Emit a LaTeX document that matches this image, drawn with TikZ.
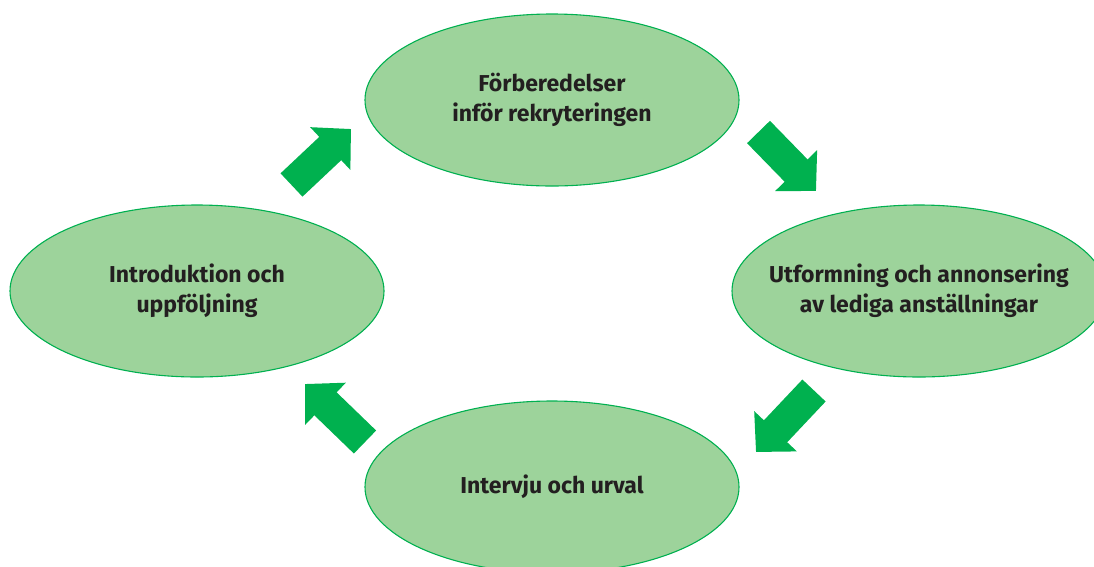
\documentclass[tikz,border=0pt]{standalone}
\usepackage{fontspec}
\setmainfont{Fira Sans}
\usetikzlibrary{arrows.meta, shapes.geometric}
\definecolor{leaf}{RGB}{157,211,155}
\definecolor{rim}{RGB}{0,176,80}
\definecolor{arrowgreen}{RGB}{0,177,79}
\definecolor{ink}{RGB}{35,31,32}

\begin{document}
\begin{tikzpicture}[x=1pt, y=-1pt,
      phase/.style={ellipse, draw=rim, fill=leaf, line width=1.1pt, minimum width=374pt, minimum height=172pt,
        inner xsep=-30pt, inner ysep=0pt, align=center, text=ink, font=\fontsize{23}{30}\selectfont\bfseries},
      blk/.style={arrowgreen, line width=32pt, -{Triangle[length=28.5pt, width=57pt]}},
    ]
    \useasboundingbox (0,0) rectangle (1094,566);
    \node[phase] (prep) at (552,100) {Förberedelser\\inför rekryteringen};
    \node[phase] (ads) at (919,291) {Utformning och annonsering\\av lediga anställningar};
    \node[phase] (interview) at (552,487) {Intervju och urval};
    \node[phase] (intro) at (197,291) {Introduktion och\\uppföljning};
    % block arrows between the phases
    \coordinate (a1s) at (291.5,185); \coordinate (a1e) at (351,129);
    \coordinate (a2s) at (758.5,132); \coordinate (a2e) at (816,191);
    \coordinate (a3s) at (814,390.5); \coordinate (a3e) at (756,452);
    \coordinate (a4s) at (365,442);   \coordinate (a4e) at (305,384);
    \draw[blk] (a1s) -- (a1e);
    \draw[blk] (a2s) -- (a2e);
    \draw[blk] (a3s) -- (a3e);
    \draw[blk] (a4s) -- (a4e);
  \end{tikzpicture}
\end{document}
